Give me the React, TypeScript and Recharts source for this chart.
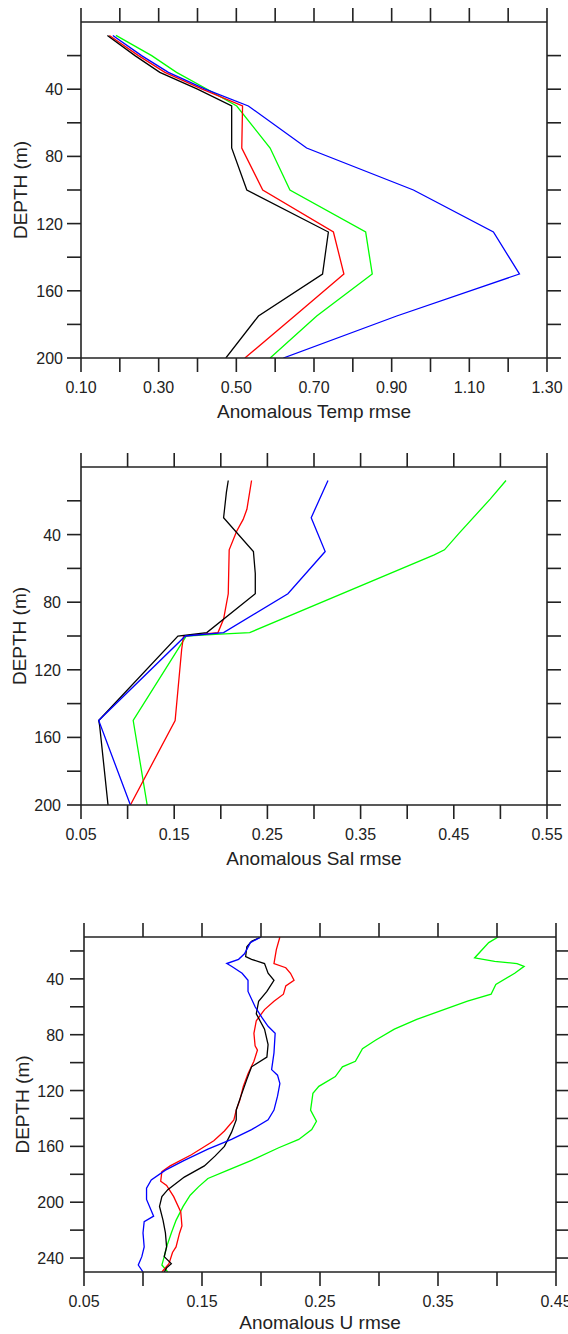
import { LineChart, Line, XAxis, YAxis } from 'recharts';

const FONT = '"Liberation Sans", Arial, sans-serif';
const INK = '#222';

// Anomalous Temp rmse (top panel)
const tempDepth = [8, 20, 30, 40, 50, 75, 100, 125, 150, 175, 200];
const tempBlack = [0.168, 0.239, 0.303, 0.4, 0.488, 0.488, 0.527, 0.737, 0.722, 0.557, 0.473];
const tempRed = [0.173, 0.248, 0.316, 0.412, 0.516, 0.514, 0.568, 0.75, 0.777, 0.65, 0.522];
const tempGreen = [0.19, 0.282, 0.346, 0.425, 0.501, 0.587, 0.638, 0.833, 0.85, 0.707, 0.587];
const tempBlue = [0.182, 0.256, 0.325, 0.42, 0.531, 0.681, 0.956, 1.162, 1.229, 0.913, 0.621];

// Anomalous Sal rmse (middle panel)
const salBlackDepth = [8, 15, 25, 30, 50, 63, 75, 98, 100, 150, 153, 200];
const salBlack = [0.208, 0.206, 0.204, 0.203, 0.235, 0.237, 0.237, 0.185, 0.154, 0.069, 0.07, 0.079];
const salRedDepth = [8, 25, 31, 38, 49, 75, 90, 98, 100, 108, 150, 200];
const salRed = [0.233, 0.228, 0.224, 0.217, 0.209, 0.208, 0.203, 0.197, 0.16, 0.158, 0.151, 0.103];
const salGreenDepth = [8, 19, 39, 49, 52, 98, 99, 100, 150, 200];
const salGreen = [0.506, 0.489, 0.456, 0.44, 0.429, 0.231, 0.194, 0.163, 0.106, 0.121];
const salBlueDepth = [8, 30, 50, 75, 98, 100, 150, 200];
const salBlue = [0.315, 0.297, 0.312, 0.272, 0.203, 0.162, 0.069, 0.103];

// Anomalous U rmse (bottom panel)
const uBlackDepth = [10, 13, 17, 24, 26, 29, 36, 41, 49, 56, 65, 76, 87, 96, 103, 112, 124, 134, 141, 150, 160, 167, 174, 182, 191, 196, 203, 213, 222, 232, 239, 244, 247, 250];
const uBlack = [0.2, 0.192, 0.188, 0.187, 0.192, 0.203, 0.206, 0.211, 0.205, 0.198, 0.196, 0.203, 0.206, 0.205, 0.192, 0.188, 0.183, 0.179, 0.179, 0.175, 0.169, 0.161, 0.152, 0.135, 0.121, 0.116, 0.114, 0.117, 0.119, 0.12, 0.118, 0.124, 0.12, 0.118];
const uRedDepth = [10, 19, 29, 32, 36, 41, 45, 51, 56, 62, 70, 79, 88, 91, 99, 108, 117, 127, 134, 141, 149, 156, 166, 174, 178, 185, 188, 196, 207, 217, 222, 232, 236, 244, 250];
const uRed = [0.216, 0.213, 0.211, 0.221, 0.225, 0.228, 0.221, 0.219, 0.211, 0.203, 0.196, 0.194, 0.195, 0.197, 0.194, 0.189, 0.185, 0.182, 0.179, 0.177, 0.169, 0.16, 0.141, 0.123, 0.116, 0.115, 0.12, 0.126, 0.132, 0.133, 0.131, 0.128, 0.125, 0.122, 0.116];
const uGreenDepth = [10, 14, 25, 27.5, 29, 31, 36, 44, 51, 56, 63, 69, 76, 84, 90, 99, 103, 110, 117, 122, 134, 142, 148, 155, 161, 170, 177, 183, 189, 195, 203, 213, 222, 232, 239, 245, 250];
const uGreen = [0.401, 0.393, 0.381, 0.398, 0.417, 0.423, 0.415, 0.399, 0.395, 0.375, 0.352, 0.332, 0.313, 0.297, 0.286, 0.28, 0.269, 0.263, 0.249, 0.244, 0.242, 0.247, 0.243, 0.232, 0.215, 0.192, 0.172, 0.155, 0.147, 0.14, 0.134, 0.128, 0.124, 0.12, 0.118, 0.116, 0.121];
const uBlueDepth = [10, 14, 22, 26, 29, 31, 36, 41, 49, 60, 68, 74, 79, 93, 105, 109, 115, 124, 134, 141, 148, 155, 162, 170, 177, 184, 190, 198, 210, 214, 222, 232, 239, 245, 250];
const uBlue = [0.2, 0.191, 0.186, 0.181, 0.171, 0.175, 0.184, 0.189, 0.189, 0.195, 0.201, 0.206, 0.212, 0.211, 0.209, 0.214, 0.216, 0.214, 0.211, 0.206, 0.192, 0.175, 0.155, 0.135, 0.119, 0.107, 0.103, 0.103, 0.109, 0.101, 0.1, 0.101, 0.099, 0.096, 0.1];

// axis ticks and labels
const tempTicks = [0.1, 0.2, 0.3, 0.4, 0.5, 0.6, 0.7, 0.8, 0.9, 1.0, 1.1, 1.2, 1.3];
const tempLabels = ['0.10', '0.30', '0.50', '0.70', '0.90', '1.10', '1.30'];
const salTicks = [0.05, 0.1, 0.15, 0.2, 0.25, 0.3, 0.35, 0.4, 0.45, 0.5, 0.55];
const salLabels = ['0.05', '0.15', '0.25', '0.35', '0.45', '0.55'];
const uTicks = [0.05, 0.1, 0.15, 0.2, 0.25, 0.3, 0.35, 0.4, 0.45];
const uLabels = ['0.05', '0.15', '0.25', '0.35', '0.45'];
const depthTicks200 = [20, 40, 60, 80, 100, 120, 140, 160, 180, 200];
const depthLabels200 = ['40', '80', '120', '160', '200'];
const depthTicks250 = [20, 40, 60, 80, 100, 120, 140, 160, 180, 200, 220, 240];
const depthLabels250 = ['40', '80', '120', '160', '200', '240'];

const rows = (depth: number[], vals: number[]) => depth.map((d, i) => ({ depth: d, v: vals[i] }));

const stroke = { stroke: INK, strokeWidth: 1.6 };

function XTick(props: any) {
  const { x, y, payload, labels } = props;
  const s = Number(payload.value).toFixed(2);
  if (!labels.includes(s)) return <g />;
  return (
    <text x={x} y={y + 19} textAnchor="middle" fontFamily={FONT} fontSize={16} fill={INK}>{s}</text>
  );
}

function YTick(props: any) {
  const { x, y, payload, labels } = props;
  const s = String(payload.value);
  if (!labels.includes(s)) return <g />;
  return (
    <text x={x} y={y + 6} textAnchor="end" fontFamily={FONT} fontSize={16} fill={INK}>{s}</text>
  );
}

function AxisTitle(props: any) {
  const { tx, ty, text } = props;
  return (
    <text x={tx} y={ty} textAnchor="middle" fontFamily={FONT} fontSize={19} fill={INK}>{text}</text>
  );
}

function DepthTitle(props: any) {
  const { tx, ty } = props;
  return (
    <text x={tx} y={ty} transform={`rotate(-90, ${tx}, ${ty})`} textAnchor="middle" fontFamily={FONT}
      fontSize={19} fill={INK}>DEPTH (m)</text>
  );
}

const noTick = () => <g />;

function Panel(p: any) {
  return (
    <div style={{ position: 'absolute', left: 0, top: p.top }}>
      <LineChart width={568} height={p.height} layout="vertical" data={p.series[0].data}
        margin={{ top: 0, right: 0, bottom: 0, left: 0 }}>
        <XAxis xAxisId="b" type="number" orientation="bottom" domain={p.xDomain} ticks={p.xTicks} interval={0}
          allowDataOverflow height={p.height - p.plotBottom} tickSize={14} tickMargin={2} axisLine={stroke} tickLine={stroke}
          tick={<XTick labels={p.xLabels} />}
          label={<AxisTitle tx={p.titleX} ty={p.plotBottom + p.titleGap} text={p.title} />} />
        <XAxis xAxisId="t" type="number" orientation="top" dataKey="v" domain={p.xDomain} ticks={p.xTicks} interval={0}
          allowDataOverflow height={p.plotTop} tickSize={14} axisLine={stroke} tickLine={stroke} tick={noTick} />
        <YAxis yAxisId="l" type="number" dataKey="depth" domain={p.yDomain} ticks={p.yTicks} interval={0}
          allowDataOverflow width={p.left} tickSize={14} tickMargin={p.yMargin} axisLine={stroke} tickLine={stroke}
          tick={<YTick labels={p.yLabels} />}
          label={<DepthTitle tx={p.depthX} ty={(p.plotTop + p.plotBottom) / 2} />} />
        <YAxis yAxisId="r" type="number" orientation="right" dataKey="depth" domain={p.yDomain} ticks={p.yTicks} interval={0}
          allowDataOverflow width={568 - p.right} tickSize={14} axisLine={stroke} tickLine={stroke} tick={noTick} />
        {p.series.map((s: any, i: number) => (
          <Line key={i} xAxisId="b" yAxisId="l" data={s.data} dataKey="v" type="linear" stroke={s.color}
            strokeWidth={1.3} dot={false} isAnimationActive={false} />
        ))}
      </LineChart>
    </div>
  );
}

export default function App() {
  return (
    <div style={{ position: 'absolute', left: 0, top: 0, width: 568, height: 1334, background: '#fff' }}>
      <Panel top={0} height={430} plotTop={22} plotBottom={358} left={81} right={547}
        xDomain={[0.1, 1.3]} xTicks={tempTicks} xLabels={tempLabels}
        yDomain={[0, 200]} yTicks={depthTicks200} yLabels={depthLabels200} yMargin={4}
        title="Anomalous Temp rmse" titleX={314} titleGap={60} depthX={27}
        series={[
          { color: '#00ff00', data: rows(tempDepth, tempGreen) },
          { color: '#ff0000', data: rows(tempDepth, tempRed) },
          { color: '#000000', data: rows(tempDepth, tempBlack) },
          { color: '#0000ff', data: rows(tempDepth, tempBlue) },
        ]} />
      <Panel top={440} height={430} plotTop={27} plotBottom={365} left={81} right={547}
        xDomain={[0.05, 0.55]} xTicks={salTicks} xLabels={salLabels}
        yDomain={[0, 200]} yTicks={depthTicks200} yLabels={depthLabels200} yMargin={6}
        title="Anomalous Sal rmse" titleX={314} titleGap={60} depthX={26}
        series={[
          { color: '#00ff00', data: rows(salGreenDepth, salGreen) },
          { color: '#ff0000', data: rows(salRedDepth, salRed) },
          { color: '#000000', data: rows(salBlackDepth, salBlack) },
          { color: '#0000ff', data: rows(salBlueDepth, salBlue) },
        ]} />
      <Panel top={900} height={434} plotTop={37} plotBottom={372} left={84} right={556}
        xDomain={[0.05, 0.45]} xTicks={uTicks} xLabels={uLabels}
        yDomain={[10, 250]} yTicks={depthTicks250} yLabels={depthLabels250} yMargin={6}
        title="Anomalous U rmse" titleX={320} titleGap={57} depthX={29}
        series={[
          { color: '#00ff00', data: rows(uGreenDepth, uGreen) },
          { color: '#ff0000', data: rows(uRedDepth, uRed) },
          { color: '#000000', data: rows(uBlackDepth, uBlack) },
          { color: '#0000ff', data: rows(uBlueDepth, uBlue) },
        ]} />
    </div>
  );
}
